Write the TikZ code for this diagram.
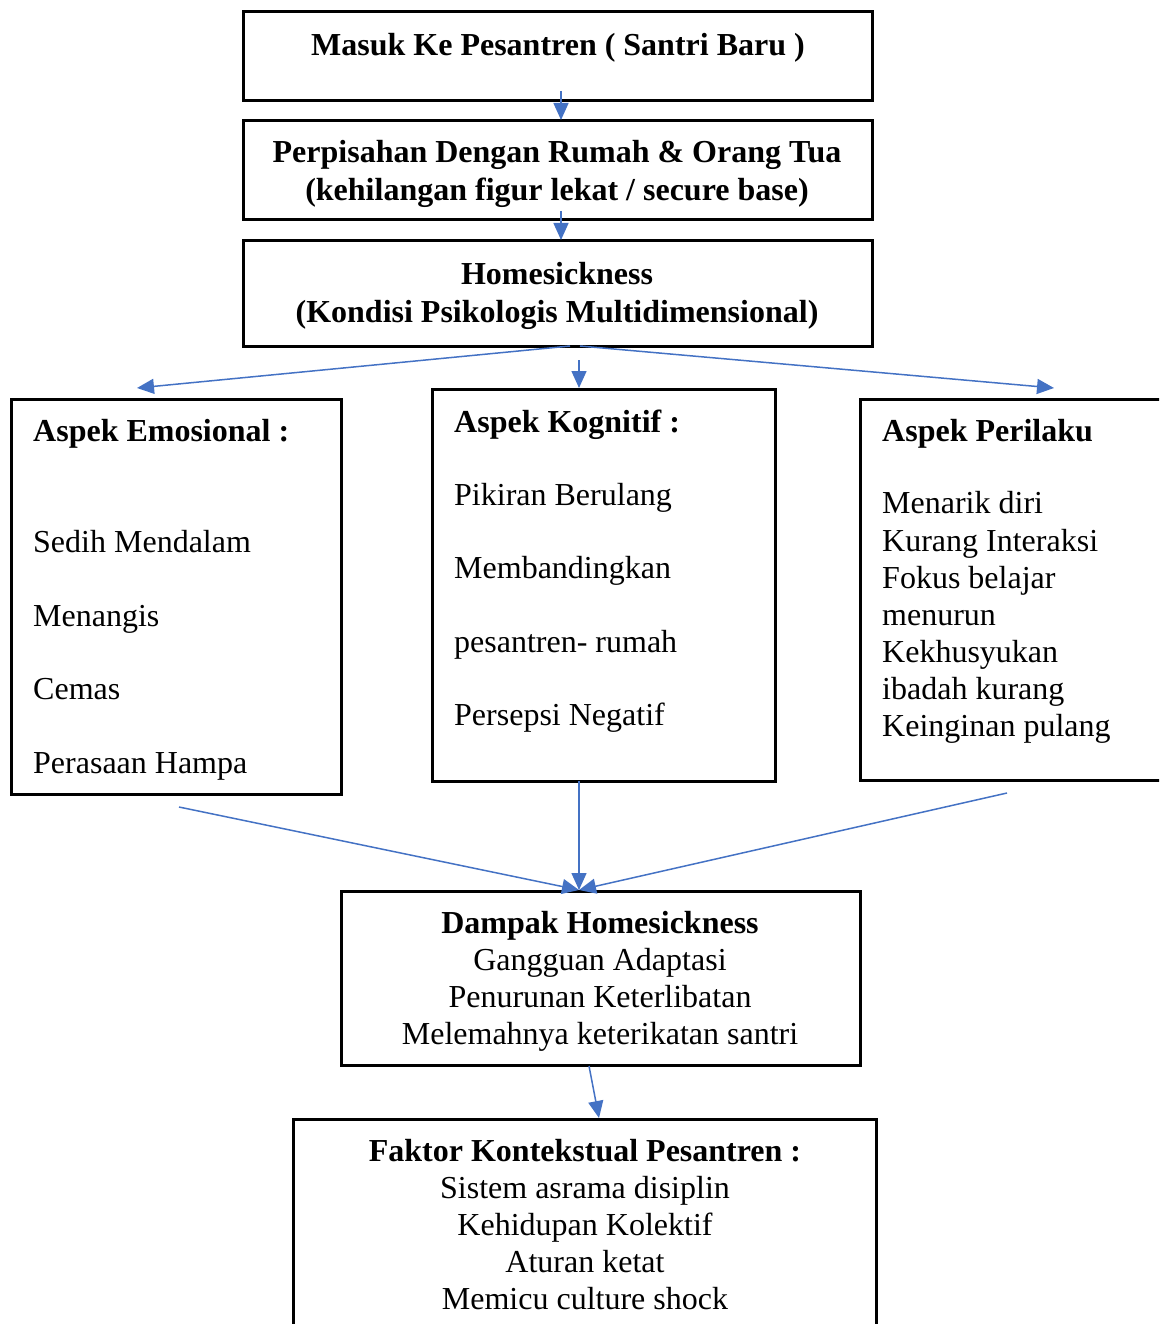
\documentclass[tikz,border=0pt]{standalone}
\usepackage{fontspec}
\setmainfont{Liberation Serif}
\usetikzlibrary{arrows.meta}
\definecolor{biru}{RGB}{68,114,196}

\begin{document}
\begin{tikzpicture}[x=1pt, y=-1pt, panah/.style={draw=biru, line width=1.5pt, -{Triangle[length=17pt, width=15pt]}}]
\tikzstyle{kotak}=[draw, line width=3pt, inner sep=0pt]
\tikzstyle{teks}=[inner sep=0pt, anchor=base west, font=\fontsize{32}{37}\selectfont]
\tikzstyle{tebal}=[teks, font=\fontsize{32}{37}\selectfont\bfseries]
\useasboundingbox (0,0) rectangle (1159,1324);
\clip (0,0) rectangle (1159,1324);
% kotak-kotak
\node[kotak, minimum width=629pt, minimum height=89pt] (masuk) at (557.5,56.5) {};
\node[kotak, minimum width=629pt, minimum height=99pt] (pisah) at (557.5,170.5) {};
\node[kotak, minimum width=629pt, minimum height=105pt] (homesick) at (557.5,293.5) {};
\node[kotak, minimum width=330pt, minimum height=395pt] (emosi) at (176,596.5) {};
\node[kotak, minimum width=343pt, minimum height=392pt] (kognisi) at (603.5,585) {};
\node[kotak, minimum width=320pt, minimum height=381pt] (perilaku) at (1020,589.5) {};
\node[kotak, minimum width=519pt, minimum height=174pt] (dampak) at (600.5,978) {};
\node[kotak, minimum width=583pt, minimum height=221pt] (faktor) at (584.5,1229.5) {};
% teks atas
\node[tebal, anchor=base] (t1) at (558,56) {Masuk Ke Pesantren ( Santri Baru )};
\node[tebal, anchor=base] (t2) at (557,163) {Perpisahan Dengan Rumah \& Orang Tua};
\node[tebal, anchor=base] (t3) at (557,201) {(kehilangan figur lekat / secure base)};
\node[tebal, anchor=base] (t4) at (557,284) {Homesickness};
\node[tebal, anchor=base] (t5) at (557,322) {(Kondisi Psikologis Multidimensional)};
% tiga aspek
\node[tebal] (e0) at (33,441) {Aspek Emosional :};
\foreach \y/\t [count=\n] in {552/Sedih Mendalam, 626/Menangis, 699/Cemas, 773/Perasaan Hampa}
  \node[teks] (e\n) at (33,\y) {\t};
\node[tebal] (k0) at (454,432) {Aspek Kognitif :};
\foreach \y/\t [count=\n] in {505/Pikiran Berulang, 578/Membandingkan, 652/pesantren- rumah, 725/Persepsi Negatif}
  \node[teks] (k\n) at (454,\y) {\t};
\node[tebal] (p0) at (882,441) {Aspek Perilaku};
\foreach \y/\t [count=\n] in {513/Menarik diri, 551/Kurang Interaksi, 588/Fokus belajar, 625/menurun, 662/Kekhusyukan, 699/ibadah kurang, 736/Keinginan pulang}
  \node[teks] (p\n) at (882,\y) {\t};
% dampak dan faktor
\node[tebal, anchor=base] (d0) at (600,933) {Dampak Homesickness};
\foreach \y/\t [count=\n] in {970/Gangguan Adaptasi, 1007/Penurunan Keterlibatan, 1044/Melemahnya keterikatan santri}
  \node[teks, anchor=base] (d\n) at (600,\y) {\t};
\node[tebal, anchor=base] (f0) at (585,1161) {Faktor Kontekstual Pesantren :};
\foreach \y/\t [count=\n] in {1198/Sistem asrama disiplin, 1235/Kehidupan Kolektif, 1272/Aturan ketat, 1309/Memicu culture shock}
  \node[teks, anchor=base] (f\n) at (585,\y) {\t};
% ujung panah
\coordinate (a1) at (561,91);   \coordinate (a2) at (561,120);
\coordinate (b1) at (561,211);  \coordinate (b2) at (561,240);
\coordinate (c1) at (570,346);  \coordinate (c2) at (137,388);
\coordinate (d1) at (579,360);  \coordinate (d2) at (579,388);
\coordinate (g1) at (580,346);  \coordinate (g2) at (1054,388);
\coordinate (h1) at (179,807);  \coordinate (temu) at (579,890);
\coordinate (h2) at (579,781);  \coordinate (h3) at (1007,793);
\coordinate (m1) at (589,1066); \coordinate (m2) at (599,1118);
\foreach \i/\j in {a1/a2,b1/b2,c1/c2,d1/d2,g1/g2,h1/temu,h2/temu,h3/temu,m1/m2}{\draw[panah] (\i) -- (\j);}
\end{tikzpicture}
\end{document}
